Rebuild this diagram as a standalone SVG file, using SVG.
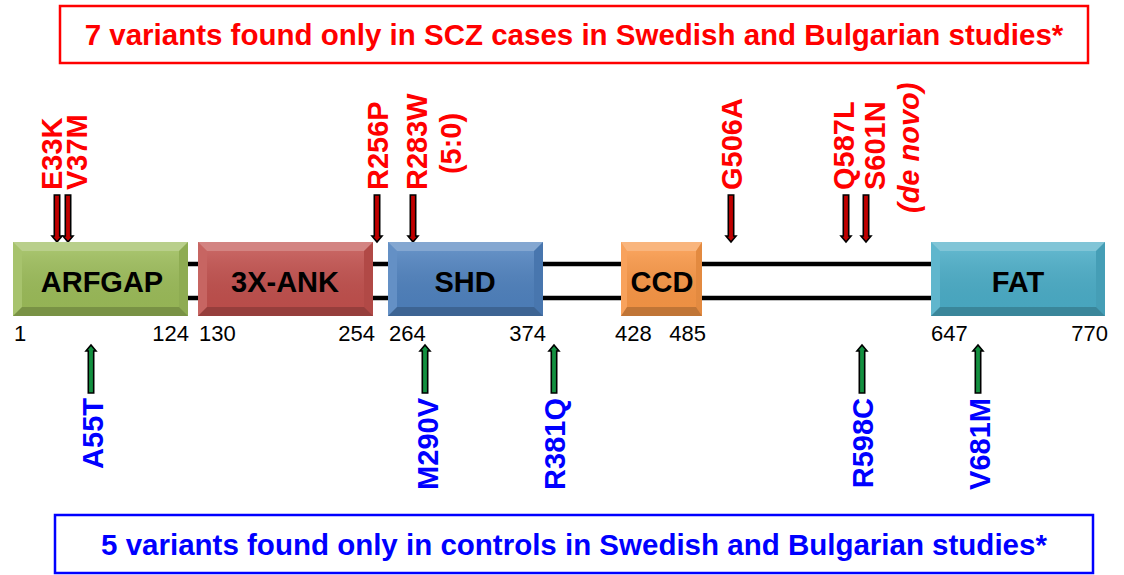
<svg xmlns="http://www.w3.org/2000/svg" width="1124" height="575" viewBox="0 0 1124 575">
<style>
text{font-family:"Liberation Sans",Arial,sans-serif}
.title{font-size:29.5px;font-weight:bold;text-anchor:middle}
.dom{font-size:29px;font-weight:bold;fill:#000;text-anchor:middle}
.num{font-size:22px;fill:#000}
.lab{font-size:29px;font-weight:bold}
.red{fill:#ff0000}
.blue{fill:#0000ff}
.bt{fill:#fff;fill-opacity:.3}
.bl{fill:#fff;fill-opacity:.12}
.br{fill:#000;fill-opacity:.08}
.bb{fill:#000;fill-opacity:.22}
.down{fill:#c00000;stroke:#000;stroke-width:1.6;stroke-linejoin:miter}
.up{fill:#139040;stroke:#000;stroke-width:1.6;stroke-linejoin:miter}
.bone{stroke:#000;stroke-width:4.5;fill:none}
</style>
<defs>
<linearGradient id="sheen" x1="0" y1="0" x2="0" y2="1">
<stop offset="0" stop-color="#fff" stop-opacity=".12"/>
<stop offset="1" stop-color="#000" stop-opacity=".04"/>
</linearGradient>
<polygon id="dn" points="-2.7,0 2.7,0 2.7,41 5,41 0,47 -5,41 -2.7,41"/>
<polygon id="upa" points="-2.7,0 2.7,0 2.7,-42 5,-42 0,-48 -5,-42 -2.7,-42"/>
</defs>
<rect width="1124" height="575" fill="#fff"/>

<g id="header">
<rect x="60" y="6" width="1028" height="57" fill="#fff" stroke="#ff0000" stroke-width="2.5"/>
<text class="title red" x="574" y="45">7 variants found only in SCZ cases in Swedish and Bulgarian studies*</text>
</g>
<g id="footer">
<rect x="55" y="515" width="1038" height="58" fill="#fff" stroke="#0000ff" stroke-width="2.5"/>
<text class="title blue" x="574" y="555">5 variants found only in controls in Swedish and Bulgarian studies*</text>
</g>

<g id="connectors">
<line class="bone" x1="150" y1="264" x2="1000" y2="264"/>
<line class="bone" x1="150" y1="298" x2="1000" y2="298"/>
<use href="#dn" class="down" x="57" y="195"/>
<use href="#dn" class="down" x="68" y="195"/>
<use href="#dn" class="down" x="377" y="195"/>
<use href="#dn" class="down" x="413" y="195"/>
<use href="#dn" class="down" x="731" y="195"/>
<use href="#dn" class="down" x="846" y="195"/>
<use href="#dn" class="down" x="866" y="195"/>
<use href="#upa" class="up" x="91" y="393"/>
<use href="#upa" class="up" x="425" y="393"/>
<use href="#upa" class="up" x="554" y="393"/>
<use href="#upa" class="up" x="862" y="393"/>
<use href="#upa" class="up" x="978" y="393"/>
</g>

<g id="ARFGAP">
<rect x="13" y="242" width="175" height="74" fill="#9bbb59"/>
<polygon class="bt" points="13,242 188,242 179,251 22,251"/>
<polygon class="bl" points="13,242 22,251 22,307 13,316"/>
<polygon class="br" points="188,242 188,316 179,307 179,251"/>
<polygon class="bb" points="13,316 22,307 179,307 188,316"/>
<rect x="22" y="251" width="157" height="56" fill="url(#sheen)"/>
<text class="dom" x="102" y="292">ARFGAP</text>
</g>
<g id="ANK">
<rect x="198" y="242" width="175" height="74" fill="#c0504d"/>
<polygon class="bt" points="198,242 373,242 364,251 207,251"/>
<polygon class="bl" points="198,242 207,251 207,307 198,316"/>
<polygon class="br" points="373,242 373,316 364,307 364,251"/>
<polygon class="bb" points="198,316 207,307 364,307 373,316"/>
<rect x="207" y="251" width="157" height="56" fill="url(#sheen)"/>
<text class="dom" x="285" y="292">3X-ANK</text>
</g>
<g id="SHD">
<rect x="388" y="242" width="155" height="74" fill="#4f81bd"/>
<polygon class="bt" points="388,242 543,242 534,251 397,251"/>
<polygon class="bl" points="388,242 397,251 397,307 388,316"/>
<polygon class="br" points="543,242 543,316 534,307 534,251"/>
<polygon class="bb" points="388,316 397,307 534,307 543,316"/>
<rect x="397" y="251" width="137" height="56" fill="url(#sheen)"/>
<text class="dom" x="465" y="292">SHD</text>
</g>
<g id="CCD">
<rect x="621" y="242" width="81" height="74" fill="#f79646"/>
<polygon class="bt" points="621,242 702,242 696,251 627,251"/>
<polygon class="bl" points="621,242 627,251 627,307 621,316"/>
<polygon class="br" points="702,242 702,316 696,307 696,251"/>
<polygon class="bb" points="621,316 627,307 696,307 702,316"/>
<rect x="627" y="251" width="69" height="56" fill="url(#sheen)"/>
<text class="dom" x="662" y="292">CCD</text>
</g>
<g id="FAT">
<rect x="931" y="242" width="174" height="74" fill="#4bacc6"/>
<polygon class="bt" points="931,242 1105,242 1096,251 940,251"/>
<polygon class="bl" points="931,242 940,251 940,307 931,316"/>
<polygon class="br" points="1105,242 1105,316 1096,307 1096,251"/>
<polygon class="bb" points="931,316 940,307 1096,307 1105,316"/>
<rect x="940" y="251" width="156" height="56" fill="url(#sheen)"/>
<text class="dom" x="1018" y="292">FAT</text>
</g>

<g id="positions">
<text class="num" x="14" y="341">1</text>
<text class="num" x="189" y="341" text-anchor="end">124</text>
<text class="num" x="199" y="341">130</text>
<text class="num" x="375" y="341" text-anchor="end">254</text>
<text class="num" x="389" y="341">264</text>
<text class="num" x="546" y="341" text-anchor="end">374</text>
<text class="num" x="615" y="341">428</text>
<text class="num" x="706" y="341" text-anchor="end">485</text>
<text class="num" x="931" y="341">647</text>
<text class="num" x="1108" y="341" text-anchor="end">770</text>
</g>

<g id="case-variants">
<text class="lab red" transform="translate(62,190) rotate(-90)">E33K</text>
<text class="lab red" transform="translate(87,190) rotate(-90)">V37M</text>
<text class="lab red" transform="translate(388,190) rotate(-90)">R256P</text>
<text class="lab red" transform="translate(427,190) rotate(-90)">R283W</text>
<text class="lab red" transform="translate(461,143.5) rotate(-90)" text-anchor="middle">(5:0)</text>
<text class="lab red" transform="translate(742,190) rotate(-90)">G506A</text>
<text class="lab red" transform="translate(854,190) rotate(-90)">Q587L</text>
<text class="lab red" transform="translate(885,190) rotate(-90)">S601N</text>
<text class="lab red" transform="translate(919,213) rotate(-90)" font-style="italic">(de novo)</text>
</g>

<g id="control-variants">
<text class="lab blue" transform="translate(103,398) rotate(-90)" text-anchor="end">A55T</text>
<text class="lab blue" transform="translate(438,398) rotate(-90)" text-anchor="end">M290V</text>
<text class="lab blue" transform="translate(565,398) rotate(-90)" text-anchor="end">R381Q</text>
<text class="lab blue" transform="translate(873,398) rotate(-90)" text-anchor="end">R598C</text>
<text class="lab blue" transform="translate(990,398) rotate(-90)" text-anchor="end">V681M</text>
</g>
</svg>
